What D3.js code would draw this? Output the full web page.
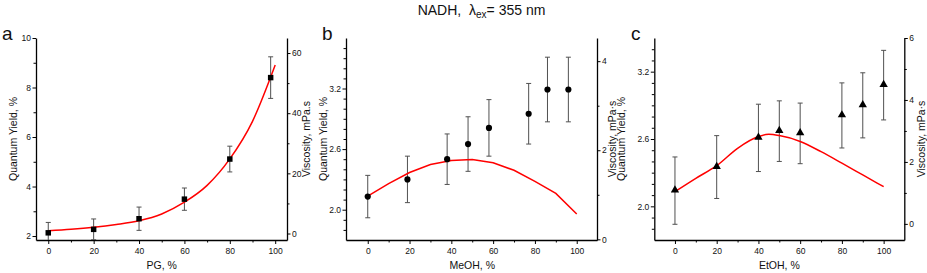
<!DOCTYPE html>
<html><head><meta charset="utf-8">
<script src="https://cdn.jsdelivr.net/npm/d3@7"></script>
<style>
body{margin:0;background:#fff}
svg{display:block}
text{font-family:"Liberation Sans",Arial,Helvetica,sans-serif;fill:#111}
</style>
</head><body>
<svg id="chart" width="927" height="273"></svg>
<script>
// ---------- Data ----------
const titleMain = "NADH,";
const panelLetters = ["a","b","c"];
const xTitles = ["PG, %","MeOH, %","EtOH, %"];
const yLeftTitle = "Quantum Yield, %";
const yRightTitles = ["Viscosity, mPa.s","Viscosity, mPa\u00b7s","Viscosity, mPa\u00b7s"];

// Panel a (PG)
const aX   = [0, 20, 40, 60, 80, 98];
const aQY  = [2.13, 2.27, 2.70, 3.49, 5.11, 8.40];
const aErr = [0.42, 0.42, 0.47, 0.45, 0.52, 0.84];
const aViscX = [0, 10, 20, 30, 40, 50, 60, 70, 80, 90, 100];
const aVisc  = [0.93, 1.4, 2.06, 3.0, 4.26, 6.5, 10.4, 16.0, 24.8, 37.3, 56];

// Panel b (MeOH)
const bX   = [0, 19, 38, 48, 58, 77, 86, 96];
const bQY  = [2.13, 2.30, 2.50, 2.65, 2.81, 2.95, 3.19, 3.19];
const bErr = [0.21, 0.23, 0.25, 0.27, 0.28, 0.30, 0.32, 0.32];
const bViscX = [0, 10, 20, 30, 40, 50, 60, 70, 80, 90, 100];
const bVisc  = [0.97, 1.25, 1.50, 1.68, 1.77, 1.79, 1.72, 1.55, 1.30, 1.03, 0.57];

// Panel c (EtOH)
const cX   = [0, 20, 40, 50, 60, 80, 90, 100];
const cQY  = [2.14, 2.35, 2.61, 2.67, 2.65, 2.81, 2.90, 3.08];
const cErr = [0.30, 0.28, 0.30, 0.27, 0.27, 0.29, 0.29, 0.31];
const cViscX = [0, 10, 20, 30, 40, 45, 50, 60, 70, 80, 90, 100];
const cVisc  = [1.04, 1.47, 1.88, 2.44, 2.82, 2.89, 2.85, 2.66, 2.33, 1.96, 1.58, 1.20];

// Ticks
const xMajor = [0, 20, 40, 60, 80, 100];
const xMinor = [10, 30, 50, 70, 90];
const aYLMajor = [2, 4, 6, 8, 10], aYLMinor = [3, 5, 7, 9];
const aYRMajor = [0, 20, 40, 60],  aYRMinor = [10, 30, 50];
const bYLMajor = [2.0, 2.6, 3.2],  bYLMinor = [1.8,1.9,2.1,2.2,2.3,2.4,2.5,2.7,2.8,2.9,3.0,3.1,3.3,3.4,3.5,3.6];
const bYRMajor = [0, 2, 4],        bYRMinor = [1, 3];
const cYLMajor = [2.0, 2.6, 3.2],  cYLMinor = [1.8,1.9,2.1,2.2,2.3,2.4,2.5,2.7,2.8,2.9,3.0,3.1,3.3,3.4];
const cYRMajor = [0, 2, 4, 6],     cYRMinor = [1, 3, 5];

// ---------- Layout ----------
const svg = d3.select("#chart");
const plotTop = 38, plotBottom = 240;

const panels = [
  {letter:panelLetters[0], left:36, right:287, xd:[-5.4,105.2], yl:[1.84,10], yr:[-2.16,65],
   X:aX, QY:aQY, Err:aErr, VX:aViscX, V:aVisc, marker:"square", curve:d3.curveMonotoneX,
   ylMaj:aYLMajor, ylMin:aYLMinor, yrMaj:aYRMajor, yrMin:aYRMinor, ylFmt:d3.format("d"),
   xTitle:xTitles[0], yrTitle:yRightTitles[0], lTitleX:17, rTitleX:310, letterX:2},
  {letter:panelLetters[1], left:346, right:597, xd:[-10.4,109.7], yl:[1.7,3.7], yr:[-0.015,4.52],
   X:bX, QY:bQY, Err:bErr, VX:bViscX, V:bVisc, marker:"circle", curve:d3.curveLinear,
   ylMaj:bYLMajor, ylMin:bYLMinor, yrMaj:bYRMajor, yrMin:bYRMinor, ylFmt:d3.format(".1f"),
   xTitle:xTitles[1], yrTitle:yRightTitles[1], lTitleX:327, rTitleX:616, letterX:322},
  {letter:panelLetters[2], left:654.3, right:904.3, xd:[-9.9,109.9], yl:[1.7,3.5], yr:[-0.52,6],
   X:cX, QY:cQY, Err:cErr, VX:cViscX, V:cVisc, marker:"triangle", curve:d3.curveMonotoneX,
   ylMaj:cYLMajor, ylMin:cYLMinor, yrMaj:cYRMajor, yrMin:cYRMinor, ylFmt:d3.format(".1f"),
   xTitle:xTitles[2], yrTitle:yRightTitles[2], lTitleX:625, rTitleX:925, letterX:631}
];

// Title
const title = svg.append("text").attr("x", 481.5).attr("y", 15)
  .attr("text-anchor","middle").style("font-size","14px");
title.append("tspan").text(titleMain + "\u00a0\u00a0\u03bb");
title.append("tspan").attr("dy", 3).style("font-size","10px").text("ex");
title.append("tspan").attr("dy", -3).text("= 355 nm");

panels.forEach((p, i) => {
  const g = svg.append("g");
  const x = d3.scaleLinear().domain(p.xd).range([p.left, p.right]);
  const yL = d3.scaleLinear().domain(p.yl).range([plotBottom, plotTop]);
  const yR = d3.scaleLinear().domain(p.yr).range([plotBottom, plotTop]);

  const clipId = "clip" + i;
  svg.append("clipPath").attr("id", clipId).append("rect")
    .attr("x", p.left).attr("y", plotTop).attr("width", p.right - p.left).attr("height", plotBottom - plotTop);

  function styleAxis(sel, major) {
    sel.select(".domain").attr("stroke", "#000").attr("stroke-width", 1.3);
    sel.selectAll(".tick line").attr("stroke", "#000").attr("stroke-width", 1);
    sel.selectAll(".tick text").style("font-size", "8.5px").attr("fill", "#111");
    if (!major) sel.select(".domain").remove();
  }

  // X axis
  g.append("g").attr("transform", `translate(0,${plotBottom})`)
    .call(d3.axisBottom(x).tickValues(xMajor).tickSize(4).tickPadding(4).tickSizeOuter(0).tickFormat(d3.format("d")))
    .call(s => styleAxis(s, true));
  g.append("g").attr("transform", `translate(0,${plotBottom})`)
    .call(d3.axisBottom(x).tickValues(xMinor).tickSize(2.5).tickFormat(""))
    .call(s => styleAxis(s, false));

  // Left axis
  g.append("g").attr("transform", `translate(${p.left},0)`)
    .call(d3.axisLeft(yL).tickValues(p.ylMaj).tickSize(3.5).tickPadding(1.5).tickSizeOuter(0).tickFormat(p.ylFmt))
    .call(s => styleAxis(s, true));
  g.append("g").attr("transform", `translate(${p.left},0)`)
    .call(d3.axisLeft(yL).tickValues(p.ylMin).tickSize(2.5).tickFormat(""))
    .call(s => styleAxis(s, false));

  // Right axis
  g.append("g").attr("transform", `translate(${p.right},0)`)
    .call(d3.axisRight(yR).tickValues(p.yrMaj).tickSize(3.5).tickPadding(1.5).tickSizeOuter(0).tickFormat(d3.format("d")))
    .call(s => styleAxis(s, true));
  g.append("g").attr("transform", `translate(${p.right},0)`)
    .call(d3.axisRight(yR).tickValues(p.yrMin).tickSize(2.5).tickFormat(""))
    .call(s => styleAxis(s, false));

  const plot = g.append("g").attr("clip-path", `url(#${clipId})`);

  // Error bars
  const pts = p.X.map((v, k) => ({x: v, y: p.QY[k], e: p.Err[k]}));
  const eb = plot.append("g").attr("stroke", "#505050").attr("stroke-width", 1).attr("fill", "none");
  pts.forEach(d => {
    const cx = x(d.x), y1 = yL(d.y + d.e), y2 = yL(d.y - d.e);
    eb.append("line").attr("x1", cx).attr("x2", cx).attr("y1", y1).attr("y2", y2);
    eb.append("line").attr("x1", cx - 2.5).attr("x2", cx + 2.5).attr("y1", y1).attr("y2", y1);
    eb.append("line").attr("x1", cx - 2.5).attr("x2", cx + 2.5).attr("y1", y2).attr("y2", y2);
  });

  // Viscosity line
  const line = d3.line().x(d => x(d[0])).y(d => yR(d[1])).curve(p.curve);
  plot.append("path").datum(p.VX.map((v, k) => [v, p.V[k]]))
    .attr("d", line).attr("fill", "none").attr("stroke", "#f00").attr("stroke-width", 1.5);

  // Markers
  const symType = p.marker === "square" ? d3.symbolSquare : p.marker === "circle" ? d3.symbolCircle : d3.symbolTriangle;
  plot.append("g").selectAll("path").data(pts).join("path")
    .attr("transform", d => `translate(${x(d.x)},${yL(d.y) + (p.marker === "triangle" ? -0.5 : 0)})`)
    .attr("d", d3.symbol().type(symType).size(30))
    .attr("fill", "#000");

  // Titles
  g.append("text").attr("x", (x(0) + x(100)) / 2).attr("y", 269)
    .attr("text-anchor", "middle").style("font-size", "10.5px").text(p.xTitle);
  g.append("text").attr("transform", `translate(${p.lTitleX},139) rotate(-90)`)
    .attr("text-anchor", "middle").style("font-size", "10.5px").text(yLeftTitle);
  g.append("text").attr("transform", `translate(${p.rTitleX},139) rotate(-90)`)
    .attr("text-anchor", "middle").style("font-size", "10.5px").text(p.yrTitle);

  // Panel letter
  g.append("text").attr("x", p.letterX).attr("y", 40).style("font-size", "19px").text(p.letter);
});
</script>
</body></html>
